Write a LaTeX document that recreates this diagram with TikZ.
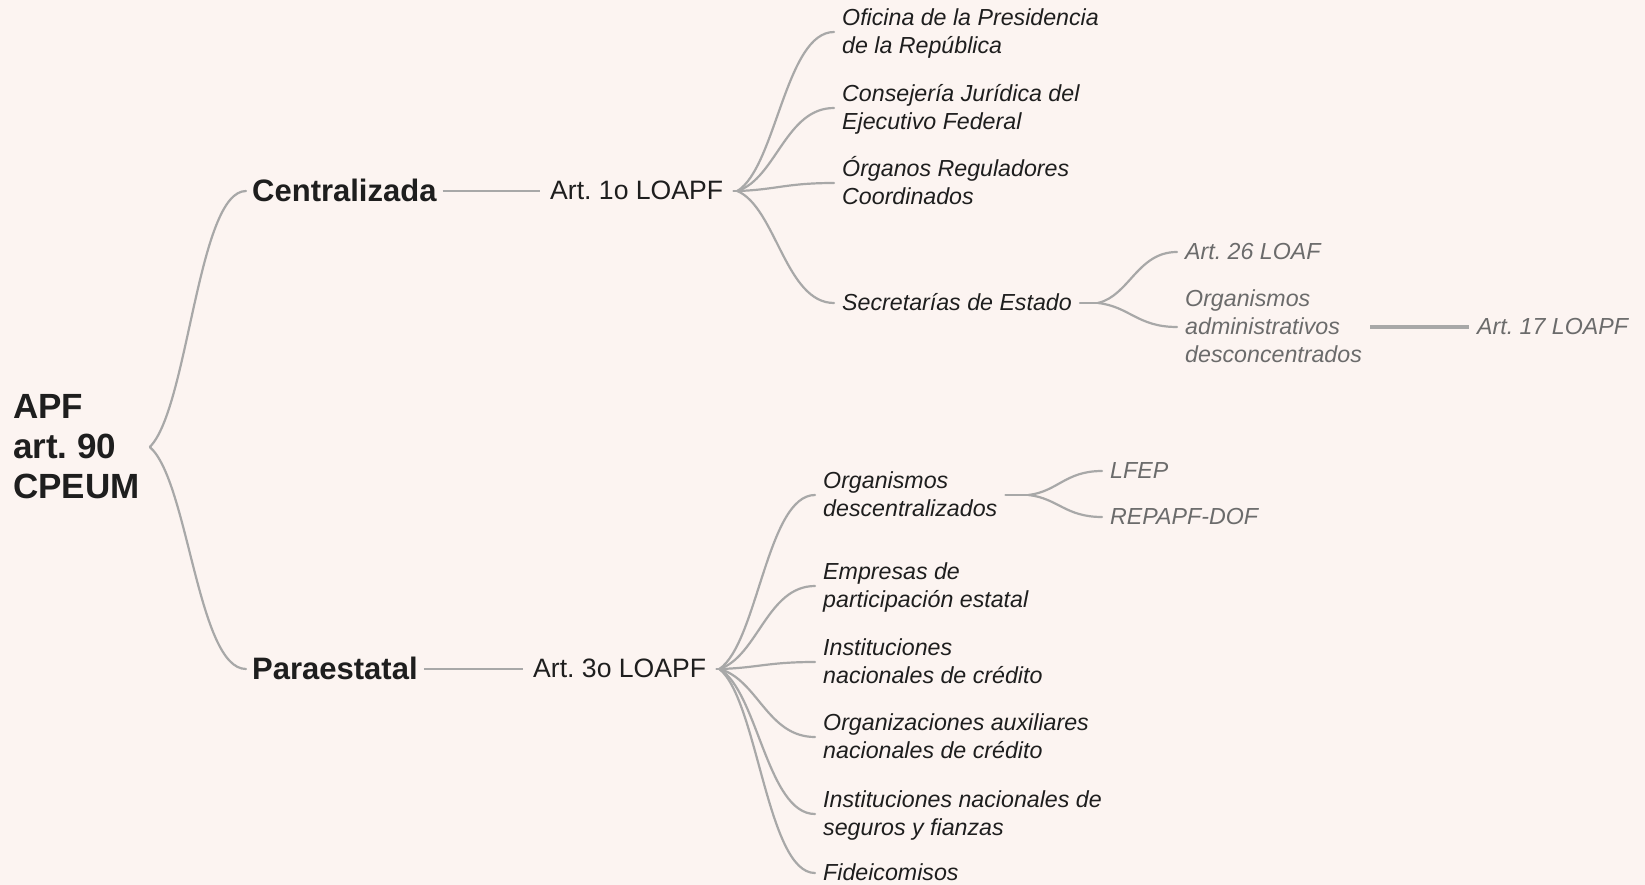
\documentclass[tikz,border=0pt]{standalone}
\usepackage{fontspec}
\setmainfont{Liberation Sans}
\usetikzlibrary{calc}
\frenchspacing
\definecolor{bgc}{HTML}{FCF4F1}
\definecolor{txt}{HTML}{1E1E1E}
\definecolor{txtg}{HTML}{6B6B6B}
\definecolor{lnc}{HTML}{A8A8A8}
\newcommand\apffont{\fontsize{35}{40}\selectfont\bfseries}
\newcommand\lvlfont{\fontsize{31}{36}\selectfont\bfseries}
\newcommand\artfont{\fontsize{26.6}{32}\selectfont}
\newcommand\leaffont{\fontsize{23.2}{28}\selectfont\itshape}
\newcommand\vs{\rule[-0.25em]{0pt}{1.15em}}
\begin{document}
\begin{tikzpicture}[x=1pt,y=-1pt,
  rootn/.style={anchor=west,inner sep=0pt,align=left,font=\apffont,text=txt},
  lvl/.style={anchor=west,inner xsep=6pt,inner ysep=0pt,font=\lvlfont,text=txt},
  art/.style={anchor=west,inner xsep=10pt,inner ysep=0pt,font=\artfont,text=txt},
  leaf/.style={anchor=west,inner xsep=8pt,inner ysep=0pt,align=left,font=\leaffont,text=txt},
  leafg/.style={leaf,text=txtg},
  lline/.style={draw=lnc,line width=2.4pt},
  bline/.style={draw=lnc,line width=3.4pt},
  crv/.style={draw=lnc,line width=2.2pt,line cap=round,
    to path={let \p1=(\tikztostart),\p2=(\tikztotarget) in
      .. controls ({\x1+0.4*(\x2-\x1)},{\y1+0.15*(\y2-\y1)}) and ({\x2-0.5*(\x2-\x1)},\y2) .. (\tikztotarget) \tikztonodes}}
]
\fill[bgc] (0,0) rectangle (1645,885);
\useasboundingbox (0,0) rectangle (1645,885);

% nodes
\node[rootn] (apf) at (13,447) {\vs APF\\art. 90\\CPEUM\vs};
\node[lvl] (cent) at (246,191) {\vs Centralizada};
\node[lvl] (para) at (246,669) {\vs Paraestatal};
\node[art] (art1) at (540,191) {\vs Art. 1o LOAPF};
\node[art] (art3) at (523,669) {\vs Art. 3o LOAPF};

\node[leaf] (ofi) at (834,32) {\vs Oficina de la Presidencia\\de la República\vs};
\node[leaf] (cons) at (834,108) {\vs Consejería Jurídica del\\Ejecutivo Federal\vs};
\node[leaf] (org) at (834,183) {\vs Órganos Reguladores\\Coordinados\vs};
\node[leaf] (sec) at (834,303) {\vs Secretarías de Estado};
\node[leafg] (a26) at (1177,252) {\vs Art. 26 LOAF};
\node[leafg] (oad) at (1177,327) {\vs Organismos\\administrativos\\desconcentrados\vs};
\node[leafg] (a17) at (1469,327) {\vs Art. 17 LOAPF};

\node[leaf] (odes) at (815,495) {\vs Organismos\\descentralizados\vs};
\node[leafg] (lfep) at (1102,471) {\vs LFEP};
\node[leafg] (rep) at (1102,517) {\vs REPAPF-DOF};
\node[leaf] (emp) at (815,586) {\vs Empresas de\\participación estatal\vs};
\node[leaf] (inst) at (815,662) {\vs Instituciones\\nacionales de crédito\vs};
\node[leaf] (oaux) at (815,737) {\vs Organizaciones auxiliares\\nacionales de crédito\vs};
\node[leaf] (iseg) at (815,814) {\vs Instituciones nacionales de\\seguros y fianzas\vs};
\node[leaf] (fid) at (815,873) {\vs Fideicomisos};

% fan points
\coordinate (p0) at ([xshift=10pt]apf.east);
\coordinate (f1) at ([xshift=4pt]art1.east);
\coordinate (f3) at ([xshift=3pt]art3.east);
\coordinate (fs) at ([xshift=18pt]sec.east);
\coordinate (fo) at ([xshift=23pt]odes.east);

% connectors
\draw[crv] (p0) to (cent.west);
\draw[crv] (p0) to (para.west);
\draw[lline] (cent.east) -- (art1.west);
\draw[lline] (para.east) -- (art3.west);

\draw[crv] (art1.east) -- (f1);
\draw[crv] (f1) to (ofi.west);
\draw[crv] (f1) to (cons.west);
\draw[crv] (f1) to (org.west);
\draw[crv] (f1) to (sec.west);

\draw[crv] (sec.east) -- (fs);
\draw[crv] (fs) to (a26.west);
\draw[crv] (fs) to (oad.west);
\draw[bline] (oad.east) -- (a17.west);

\draw[crv] (art3.east) -- (f3);
\draw[crv] (f3) to (odes.west);
\draw[crv] (f3) to (emp.west);
\draw[crv] (f3) to (inst.west);
\draw[crv] (f3) to (oaux.west);
\draw[crv] (f3) to (iseg.west);
\draw[crv] (f3) to (fid.west);

\draw[crv] (odes.east) -- (fo);
\draw[crv] (fo) to (lfep.west);
\draw[crv] (fo) to (rep.west);
\end{tikzpicture}
\end{document}
